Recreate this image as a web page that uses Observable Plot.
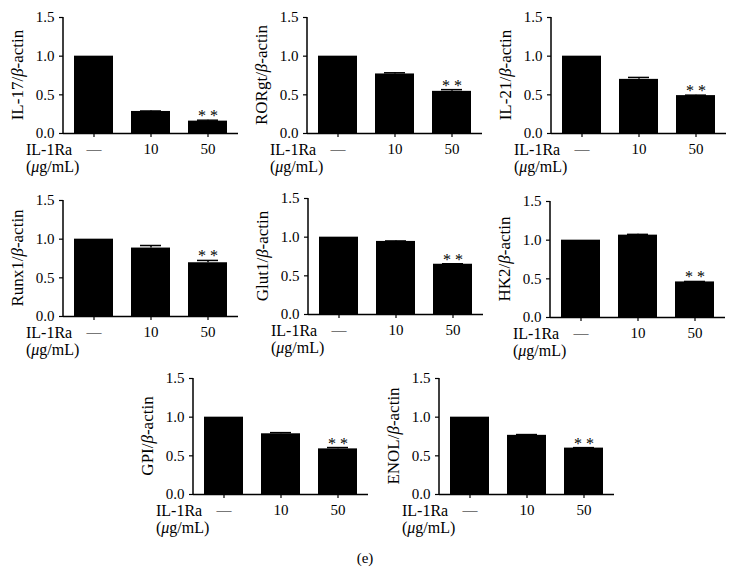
<!DOCTYPE html>
<html>
<head>
<meta charset="utf-8">
<script src="https://cdn.jsdelivr.net/npm/d3@7"></script>
<script src="https://cdn.jsdelivr.net/npm/@observablehq/plot@0.6"></script>
<style>
  body { margin: 0; background: white; }
  #wrap { position: relative; width: 736px; height: 576px; background: white; font-family: "Liberation Serif", serif; color: black; }
  .panel { position: absolute; }
  .panel svg, .panel svg text { font-family: "Liberation Serif", serif !important; }
  #caption { position: absolute; left: 0; width: 730px; top: 550px; text-align: center; font-size: 15px; }
</style>
</head>
<body>
<div id="wrap"><div id="caption">(e)</div></div>
<script>
// ---- data ----
const doses = ["—", "10", "50"];
const genes = ["IL-17", "RORgt", "IL-21", "Runx1", "Glut1", "HK2", "GPI", "ENOL"];
const means = [
  [1.00, 0.285, 0.16],
  [1.00, 0.77, 0.545],
  [1.00, 0.70, 0.49],
  [1.00, 0.885, 0.695],
  [1.00, 0.945, 0.65],
  [1.00, 1.065, 0.46],
  [1.00, 0.785, 0.59],
  [1.00, 0.765, 0.60]
];
const errors = [
  [0, 0.006, 0.012],
  [0, 0.015, 0.022],
  [0, 0.025, 0.006],
  [0, 0.033, 0.03],
  [0, 0.006, 0.006],
  [0, 0.01, 0.006],
  [0, 0.015, 0.017],
  [0, 0.01, 0.006]
];
const significance = ["", "", "* *"];
const yTicks = [0, 0.5, 1.0, 1.5];
const doseLabel = "IL-1Ra";

// ---- layout (axis origin positions on the page) ----
const layout = [
  {ax: 63, top: 17}, {ax: 307, top: 17}, {ax: 551, top: 17},
  {ax: 63, top: 200}, {ax: 308, top: 198}, {ax: 550, top: 201},
  {ax: 193, top: 378}, {ax: 439, top: 378}
];
const mL = 63, mT = 10, mR = 10, mB = 45, fw = 175, fh = 116;
const FONT = "Liberation Serif, serif";

const wrap = document.getElementById("wrap");

genes.forEach((gene, gi) => {
  const data = doses.map((d, i) => ({dose: d, value: means[gi][i], err: errors[gi][i], sig: significance[i]}));
  const withErr = data.filter(d => d.err > 0);
  const plot = Plot.plot({
    width: mL + fw + mR,
    height: mT + fh + mB,
    marginLeft: mL, marginRight: mR, marginTop: mT, marginBottom: mB,
    style: {fontFamily: FONT, fontSize: "15px", background: "transparent", overflow: "visible", color: "black", maxWidth: "none"},
    x: {domain: doses, paddingInner: 0.31, paddingOuter: 0.17},
    y: {domain: [0, 1.5]},
    marks: [
      Plot.axisX({tickSize: 4, tickPadding: 6, fontSize: 15, label: null, stroke: "black", fill: "black", strokeWidth: 1.2}),
      Plot.axisY({ticks: yTicks, tickFormat: d3.format(".1f"), tickSize: 4, tickPadding: 5, fontSize: 15, label: null, stroke: "black", fill: "black", strokeWidth: 1.2}),
      Plot.barY(data, {x: "dose", y: "value", fill: "black"}),
      Plot.ruleX(withErr, {x: "dose", y1: "value", y2: d => d.value + d.err, stroke: "black", strokeWidth: 1.5}),
      Plot.tickY(withErr, {x: "dose", y: d => d.value + d.err, insetLeft: 9, insetRight: 9, stroke: "black", strokeWidth: 1.5}),
      Plot.text(data, {x: "dose", y: d => d.value + d.err, text: "sig", lineAnchor: "bottom", dy: 1, fontSize: 16, fill: "black"}),
      Plot.ruleY([0], {stroke: "black", strokeWidth: 1.5})
    ]
  });
  const svg = d3.select(plot);
  // y axis line
  svg.append("line").attr("x1", mL).attr("x2", mL).attr("y1", mT).attr("y2", mT + fh)
    .attr("stroke", "black").attr("stroke-width", 1.5);
  // y label with italic beta
  const yl = svg.append("text")
    .attr("transform", `translate(23,${mT + fh / 2}) rotate(-90)`)
    .attr("text-anchor", "middle").attr("font-size", 17).attr("font-family", FONT).attr("fill", "black");
  yl.append("tspan").text(gene + "/");
  yl.append("tspan").attr("font-style", "italic").text("β");
  yl.append("tspan").text("-actin");
  // dose label
  svg.append("text").attr("x", 26).attr("y", mT + fh + 22).attr("text-anchor", "start")
    .attr("font-size", 16).attr("font-family", FONT).attr("fill", "black").text(doseLabel);
  const unit = svg.append("text").attr("x", 26).attr("y", mT + fh + 39).attr("text-anchor", "start")
    .attr("font-size", 16).attr("font-family", FONT).attr("fill", "black");
  unit.append("tspan").text("(");
  unit.append("tspan").attr("font-style", "italic").text("μ");
  unit.append("tspan").text("g/mL)");

  const div = document.createElement("div");
  div.className = "panel";
  div.style.left = (layout[gi].ax - mL) + "px";
  div.style.top = (layout[gi].top - mT) + "px";
  div.style.width = (mL + fw + mR) + "px";
  div.appendChild(plot);
  wrap.appendChild(div);
});
</script>
</body>
</html>
